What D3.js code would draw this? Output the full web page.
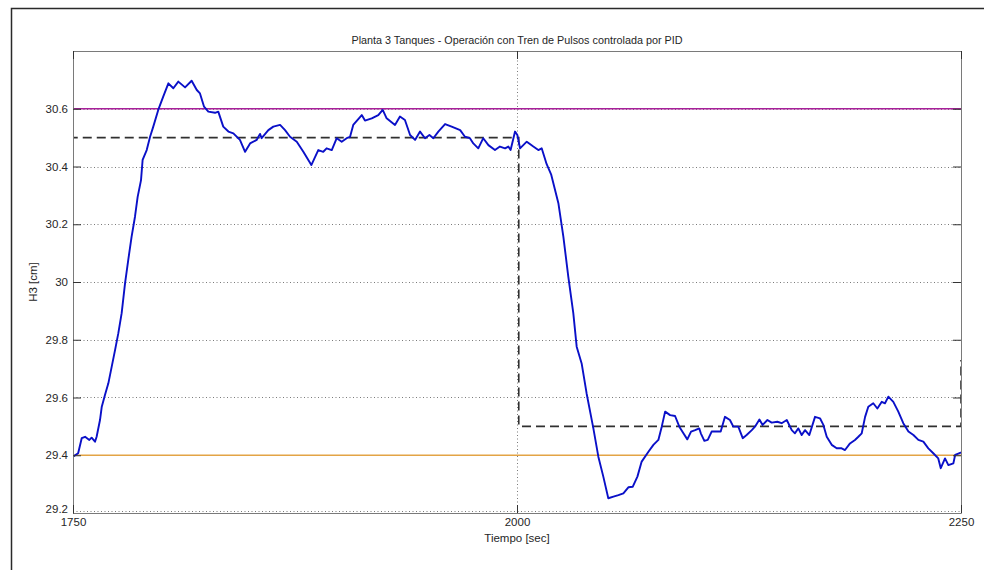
<!DOCTYPE html>
<html>
<head>
<meta charset="utf-8">
<script src="https://cdn.jsdelivr.net/npm/d3@7"></script>
<style>
  html, body { margin: 0; padding: 0; background: #fff; }
  svg { display: block; font-family: "Liberation Sans", Arial, sans-serif; }
</style>
</head>
<body>
<svg id="chart" width="984" height="570"></svg>
<script>
// ---- data ----
const titleText = "Planta 3 Tanques - Operación con Tren de Pulsos controlada por PID";
const xLabel = "Tiempo [sec]";
const yLabel = "H3 [cm]";
const xTicks = [1750, 2000, 2250];
const yTicks = [29.2, 29.4, 29.6, 29.8, 30, 30.2, 30.4, 30.6];
const xDomain = [1750, 2250];
const yDomain = [29.2, 30.8];

// measured level H3 (blue)
const time = [1750,1752.9,1754.9,1756.8,1759.2,1760.5,1762.4,1763.3,1765.2,1766.2,1768,1769.9,1771.8,1773.7,1775.5,1777.4,1779.3,1781.1,1783,1784.9,1786.4,1788.3,1789.2,1791.5,1793.4,1795.2,1798,1800.8,1803.7,1806.5,1809.3,1813.1,1816.8,1819.7,1821.5,1823.8,1826.2,1830,1831.8,1834.6,1837.5,1840.3,1844,1846.9,1849.7,1853.4,1855.3,1856.2,1860,1862.8,1866.6,1869.4,1872.2,1876,1879.7,1884.2,1888.1,1890.9,1892.8,1895.7,1898.5,1901.3,1904.1,1906,1907.8,1912.6,1914.4,1918.2,1921.9,1924.4,1926.6,1931.3,1934.1,1936.9,1939.8,1942.6,1945.4,1948.2,1950.7,1952.9,1955.7,1959.5,1963.2,1968,1970.7,1973.5,1975.4,1978.2,1981,1983.9,1987.6,1990.4,1993.3,1995.1,1996.4,1998.9,2000.2,2001.7,2005.5,2009.2,2012,2013.9,2016.7,2019.2,2023.3,2026.1,2028.9,2031.7,2033.6,2036.4,2039.2,2043,2045.8,2048.6,2051.4,2054.3,2057.1,2059.9,2062.7,2065.2,2067.8,2070.2,2074,2076.8,2079.6,2081.5,2083.4,2086.2,2089,2091.4,2093.7,2095.9,2098,2100.3,2102.6,2103.5,2105.5,2107.4,2109.6,2112.3,2114.7,2117.1,2119.9,2121.8,2124.6,2127.1,2129.3,2132.2,2134,2136.5,2138.3,2141,2143.4,2146.6,2149,2151.9,2154.7,2156.5,2158.4,2160.3,2162.2,2164.6,2167.8,2170.6,2172.5,2174.4,2177.2,2180,2182.8,2184.7,2187.5,2190.3,2192.2,2194.1,2196,2197.8,2200.6,2202.9,2205.4,2207.2,2209.1,2211.9,2214.7,2217.5,2220.4,2223.2,2226,2228.8,2231.6,2234.4,2237.2,2238.6,2241,2242.9,2245.7,2246.7,2249.5,2250];
const h3 = [29.395,29.407,29.459,29.464,29.453,29.461,29.447,29.464,29.522,29.568,29.609,29.649,29.707,29.765,29.822,29.892,29.995,30.076,30.157,30.226,30.295,30.353,30.423,30.457,30.503,30.538,30.596,30.642,30.688,30.671,30.694,30.674,30.697,30.665,30.653,30.607,30.59,30.586,30.59,30.538,30.521,30.515,30.492,30.451,30.48,30.492,30.513,30.498,30.526,30.538,30.544,30.526,30.503,30.486,30.451,30.405,30.457,30.451,30.463,30.457,30.498,30.486,30.498,30.503,30.544,30.578,30.559,30.567,30.578,30.596,30.567,30.544,30.573,30.561,30.509,30.492,30.521,30.498,30.509,30.498,30.521,30.547,30.538,30.526,30.503,30.498,30.48,30.463,30.498,30.474,30.457,30.469,30.463,30.469,30.457,30.521,30.509,30.463,30.486,30.469,30.457,30.463,30.408,30.373,30.273,30.157,30.018,29.892,29.776,29.718,29.614,29.493,29.395,29.326,29.251,29.257,29.262,29.268,29.289,29.291,29.326,29.378,29.412,29.436,29.453,29.499,29.551,29.539,29.536,29.499,29.476,29.455,29.482,29.487,29.493,29.476,29.45,29.453,29.482,29.482,29.482,29.533,29.522,29.499,29.499,29.459,29.47,29.487,29.499,29.524,29.505,29.522,29.513,29.516,29.511,29.522,29.487,29.476,29.493,29.47,29.487,29.47,29.533,29.528,29.505,29.464,29.436,29.424,29.424,29.418,29.441,29.453,29.464,29.476,29.533,29.568,29.58,29.562,29.585,29.58,29.603,29.585,29.551,29.511,29.482,29.47,29.453,29.447,29.424,29.407,29.389,29.355,29.389,29.366,29.372,29.401,29.408,29.41];

// setpoint (pulse train, black dashed)
const refTime = [1750, 1750, 2001, 2001, 2250, 2250];
const refValue = [29.758, 30.5, 30.5, 29.5, 29.5, 29.73];

// limits
const upperLimit = 30.6;
const lowerLimit = 29.4;

// ---- layout ----
const svg = d3.select("#chart");
const W = 984, H = 570;
const m = { left: 73, right: 23, top: 51, bottom: 57 };

const x = d3.scaleLinear().domain(xDomain).range([m.left, W - m.right]);
const y = d3.scaleLinear().domain(yDomain).range([H - m.bottom, m.top]);

// outer figure frame
svg.append("rect")
  .attr("x", 11.5).attr("y", 8.5)
  .attr("width", 1000).attr("height", 600)
  .attr("fill", "none").attr("stroke", "#2a2a2a").attr("stroke-width", 1.5);

// grid
const grid = svg.append("g").attr("stroke", "#7a7a7a").attr("stroke-width", 1)
  .attr("stroke-dasharray", "1,2.5");
grid.selectAll("line.gy").data(yTicks.filter(v => v > yDomain[0])).join("line")
  .attr("x1", x(xDomain[0])).attr("x2", x(xDomain[1]))
  .attr("y1", d => Math.round(y(d)) + 0.5).attr("y2", d => Math.round(y(d)) + 0.5);
grid.selectAll("line.gx").data(xTicks.filter(v => v > xDomain[0] && v < xDomain[1])).join("line")
  .attr("y1", y(yDomain[0])).attr("y2", y(yDomain[1]))
  .attr("x1", d => Math.round(x(d)) + 0.5).attr("x2", d => Math.round(x(d)) + 0.5);
// dotted line along bottom edge
svg.append("line")
  .attr("x1", x(xDomain[0])).attr("x2", x(xDomain[1]))
  .attr("y1", y(yDomain[0]) - 1.5).attr("y2", y(yDomain[0]) - 1.5)
  .attr("stroke", "#7a7a7a").attr("stroke-dasharray", "1,2.5");

// clip
svg.append("clipPath").attr("id", "clip").append("rect")
  .attr("x", m.left).attr("y", m.top)
  .attr("width", W - m.left - m.right).attr("height", H - m.top - m.bottom);

const plot = svg.append("g").attr("clip-path", "url(#clip)");

// limits
plot.append("line")
  .attr("x1", x(xDomain[0])).attr("x2", x(xDomain[1]))
  .attr("y1", y(upperLimit)).attr("y2", y(upperLimit))
  .attr("stroke", "#a8209a").attr("stroke-width", 1.6);
plot.append("line")
  .attr("x1", x(xDomain[0])).attr("x2", x(xDomain[1]))
  .attr("y1", y(lowerLimit)).attr("y2", y(lowerLimit))
  .attr("stroke", "#e3a445").attr("stroke-width", 1.6);

// setpoint
const refData = refTime.map((t, i) => [t, refValue[i]]);
plot.append("path")
  .datum(refData)
  .attr("d", d3.line().x(d => x(d[0])).y(d => y(d[1])))
  .attr("fill", "none").attr("stroke", "#303030").attr("stroke-width", 1.6)
  .attr("stroke-dasharray", "9,5");

// measured
const hData = time.map((t, i) => [t, h3[i]]);
plot.append("path")
  .datum(hData)
  .attr("d", d3.line().x(d => x(d[0])).y(d => y(d[1])))
  .attr("fill", "none").attr("stroke", "#0a10c8").attr("stroke-width", 1.9)
  .attr("stroke-linejoin", "round");

// axes (MATLAB style inward ticks, box)
const axColor = "#7a7a7a";
const tl = 8;
function styleAxis(g) {
  g.select(".domain").attr("stroke", axColor);
  g.selectAll(".tick line").attr("stroke", "#333");
  g.selectAll(".tick text").attr("fill", "#262626").attr("font-size", 11.5)
    .attr("font-family", "\"Liberation Sans\", Arial, sans-serif");
}
const fmt = d => d3.format("~g")(d);

const gL = svg.append("g").attr("transform", `translate(${m.left},0)`)
  .call(d3.axisLeft(y).tickValues(yTicks).tickSizeInner(-tl).tickSizeOuter(0).tickPadding(6).tickFormat(fmt));
styleAxis(gL);
gL.selectAll(".tick text").attr("x", -5);
// lowest label sits slightly above its tick, as in the reference
gL.selectAll(".tick text").filter(d => d === yDomain[0]).attr("dy", "-0.05em");

const gR = svg.append("g").attr("transform", `translate(${W - m.right},0)`)
  .call(d3.axisRight(y).tickValues(yTicks).tickSizeInner(-tl).tickSizeOuter(0).tickFormat(""));
styleAxis(gR);

const gB = svg.append("g").attr("transform", `translate(0,${H - m.bottom})`)
  .call(d3.axisBottom(x).tickValues(xTicks).tickSizeInner(-tl).tickSizeOuter(0).tickPadding(3).tickFormat(fmt));
styleAxis(gB);
gB.selectAll(".tick text").attr("y", 5);

const gT = svg.append("g").attr("transform", `translate(0,${m.top})`)
  .call(d3.axisTop(x).tickValues(xTicks).tickSizeInner(-tl).tickSizeOuter(0).tickFormat(""));
styleAxis(gT);

// labels
svg.append("text")
  .attr("x", x(2000)).attr("y", 44)
  .attr("text-anchor", "middle").attr("font-size", 10.8).attr("fill", "#262626")
  .text(titleText);
svg.append("text")
  .attr("x", x(2000)).attr("y", 542)
  .attr("text-anchor", "middle").attr("font-size", 11.5).attr("fill", "#262626")
  .text(xLabel);
svg.append("text")
  .attr("transform", `translate(37,${(y(yDomain[0]) + y(yDomain[1])) / 2}) rotate(-90)`)
  .attr("text-anchor", "middle").attr("font-size", 11.5).attr("fill", "#262626")
  .text(yLabel);
</script>
</body>
</html>
